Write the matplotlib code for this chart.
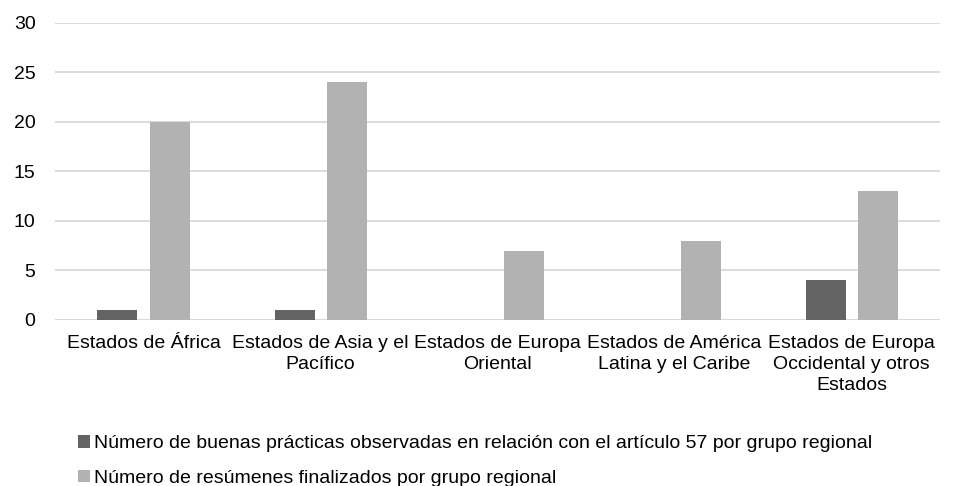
import numpy as np
import matplotlib.pyplot as plt

plt.rcParams['font.family'] = ['Liberation Sans', 'DejaVu Sans']

categories = ["Estados de África", "Estados de Asia y el\nPacífico", "Estados de Europa\nOriental",
              "Estados de América\nLatina y el Caribe", "Estados de Europa\nOccidental y otros\nEstados"]
buenas_practicas = [1, 1, 0, 0, 4]
resumenes = [20, 24, 7, 8, 13]
labels = ["Número de buenas prácticas observadas en relación con el artículo 57 por grupo regional",
          "Número de resúmenes finalizados por grupo regional"]

fig = plt.figure(figsize=(9.56, 4.86), dpi=100)
ax = fig.add_axes([0.0575, 0.342, 0.926, 0.611])

x = np.arange(len(categories))
w = 0.226
ax.bar(x - 0.147, buenas_practicas, w, color='#636363', label=labels[0], zorder=3)
ax.bar(x + 0.147, resumenes, w, color='#b2b2b2', label=labels[1], zorder=3)

ax.set_xlim(-0.5, len(categories) - 0.5)
ax.set_ylim(0, 30)
ax.set_yticks(range(0, 31, 5))
ax.yaxis.grid(True, color='#d9d9d9', linewidth=1.3, zorder=0)
for s in ax.spines.values():
    s.set_visible(False)
ax.axhline(0, color='#d9d9d9', linewidth=1.3, zorder=2)
ax.tick_params(length=0, labelsize=14, colors='#000000')
ax.tick_params(axis='y', pad=14)
ax.tick_params(axis='x', pad=11)
ax.set_xticks(x)
ax.set_xticklabels(categories, fontsize=14, linespacing=1.3)

fig.legend(loc='upper left', bbox_to_anchor=(0.063, 0.141), ncol=1, frameon=False,
           fontsize=14, handlelength=0.62, handleheight=0.62, handletextpad=0.2,
           labelspacing=0.9)

fig.savefig('out.png', dpi=100)
